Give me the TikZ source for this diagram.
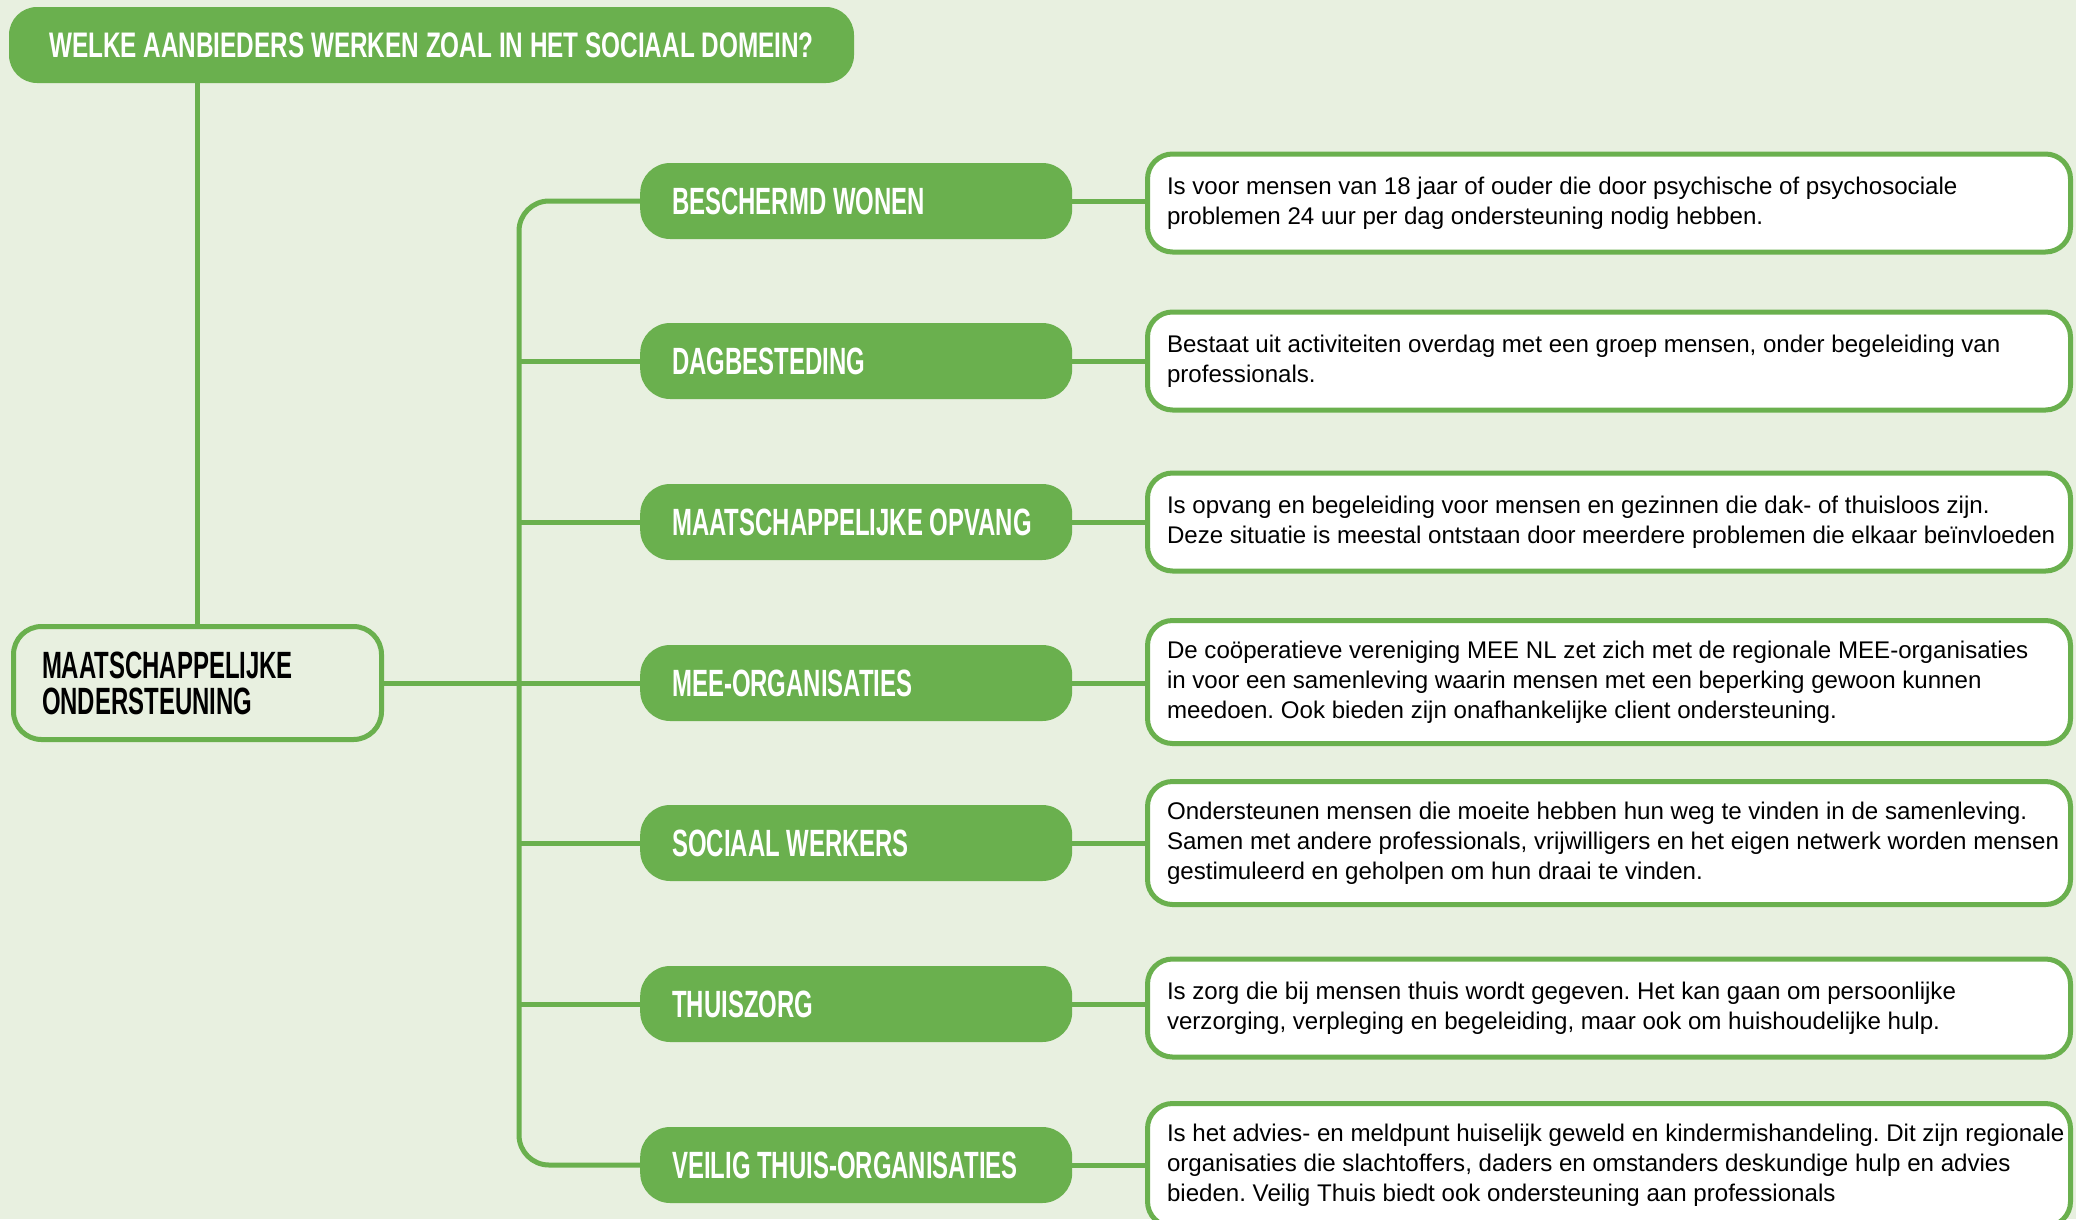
\documentclass[tikz,border=0pt]{standalone}
\usepackage{fontspec}
\setmainfont{Liberation Sans}
\newfontfamily\headfont[FakeStretch=0.63]{Liberation Sans}
\newfontfamily\titlefont[FakeStretch=0.685]{Liberation Sans}
\definecolor{grn}{HTML}{6AB04E}
\definecolor{bgc}{HTML}{E8F0E0}
\newcommand\tb[1]{\begin{tabular}{@{}l@{}}#1\end{tabular}}
\tikzset{
  natspace/.style={execute at begin node={\spaceskip=0pt\xspaceskip=0pt\relax}},
  titlebox/.style={fill=grn, rounded corners=28pt, minimum width=845pt, minimum height=76pt,
    inner sep=0pt, text=white, font=\titlefont\bfseries\fontsize{35.5}{40}\selectfont},
  rootbox/.style={natspace, draw=grn, line width=5pt, fill=bgc, rounded corners=28pt,
    minimum height=113pt, text width=311pt, inner xsep=28.5pt, inner ysep=0pt, align=left,
    text=black, font=\headfont\bfseries\fontsize{38}{36}\selectfont},
  catbox/.style={natspace, fill=grn, rounded corners=30pt, minimum height=76pt, text width=368pt,
    inner xsep=32pt, inner ysep=0pt, align=left, anchor=west, text=white,
    font=\headfont\bfseries\fontsize{38}{40}\selectfont},
  descbox/.style={natspace, draw=grn, line width=5pt, fill=white, rounded corners=25pt,
    text width=884pt, inner xsep=19.5pt, inner ysep=0pt, align=left, anchor=west,
    text=black, font=\fontsize{24.1}{30}\selectfont},
  conn/.style={draw=grn, line width=5pt},
}
\begin{document}
\frenchspacing
\begin{tikzpicture}[x=1pt,y=-1pt]
\useasboundingbox (0,0) rectangle (2076,1219);
\fill[bgc] (0,0) rectangle (2076,1219);

\node[titlebox] (title) at (431.5,45) {WELKE AANBIEDERS WERKEN ZOAL IN HET SOCIAAL DOMEIN?};
\node[rootbox] (root) at (197.5,683) {MAATSCHAPPELIJKE\\ONDERSTEUNING};

\node[catbox] (g1) at (640,201) {\mbox{BESCHERMD WONEN}};
\node[catbox] (g2) at (640,361) {\mbox{DAGBESTEDING}};
\node[catbox] (g3) at (640,522) {\mbox{MAATSCHAPPELIJKE OPVANG}};
\node[catbox] (g4) at (640,683) {\mbox{MEE-ORGANISATIES}};
\node[catbox] (g5) at (640,843) {\mbox{SOCIAAL WERKERS}};
\node[catbox] (g6) at (640,1004) {\mbox{THUISZORG}};
\node[catbox] (g7) at (640,1165) {\mbox{VEILIG THUIS-ORGANISATIES}};

\node[descbox, minimum height=98pt] (d1) at (1145,203) {\tb{Is voor mensen van 18 jaar of ouder die door psychische of psychosociale\\problemen 24 uur per dag ondersteuning nodig hebben.}};
\node[descbox, minimum height=98pt] (d2) at (1145,361) {\tb{Bestaat uit activiteiten overdag met een groep mensen, onder begeleiding van\\professionals.}};
\node[descbox, minimum height=98pt] (d3) at (1145,522) {\tb{Is opvang en begeleiding voor mensen en gezinnen die dak- of thuisloos zijn.\\Deze situatie is meestal ontstaan door meerdere problemen die elkaar beïnvloeden}};
\node[descbox, minimum height=123pt] (d4) at (1145,682) {\tb{De coöperatieve vereniging MEE NL zet zich met de regionale MEE-organisaties\\in voor een samenleving waarin mensen met een beperking gewoon kunnen\\meedoen. Ook bieden zijn onafhankelijke client ondersteuning.}};
\node[descbox, minimum height=123pt] (d5) at (1145,843) {\tb{Ondersteunen mensen die moeite hebben hun weg te vinden in de samenleving.\\Samen met andere professionals, vrijwilligers en het eigen netwerk worden mensen\\gestimuleerd en geholpen om hun draai te vinden.}};
\node[descbox, minimum height=98pt] (d6) at (1145,1008) {\tb{Is zorg die bij mensen thuis wordt gegeven. Het kan gaan om persoonlijke\\verzorging, verpleging en begeleiding, maar ook om huishoudelijke hulp.}};
\node[descbox, minimum height=123pt] (d7) at (1145,1165) {\tb{Is het advies- en meldpunt huiselijk geweld en kindermishandeling. Dit zijn regionale\\organisaties die slachtoffers, daders en omstanders deskundige hulp en advies\\bieden. Veilig Thuis biedt ook ondersteuning aan professionals}};

\coordinate (tTop) at (519,201);
\coordinate (tBot) at (519,1165);
\draw[conn] (title.south -| root.north) -- (root.north);
\draw[conn, rounded corners=30pt] (g1.west) -- (tTop) -- (tBot) -- (g7.west);
\foreach \i in {2,...,6} { \draw[conn] (g\i.west) -- (g\i.west -| tTop); }
\draw[conn] (root.east) -- (root.east -| tTop);
\foreach \i in {1,...,7} { \draw[conn] (g\i.east) -- (g\i.east -| d\i.west); }
\end{tikzpicture}
\end{document}
